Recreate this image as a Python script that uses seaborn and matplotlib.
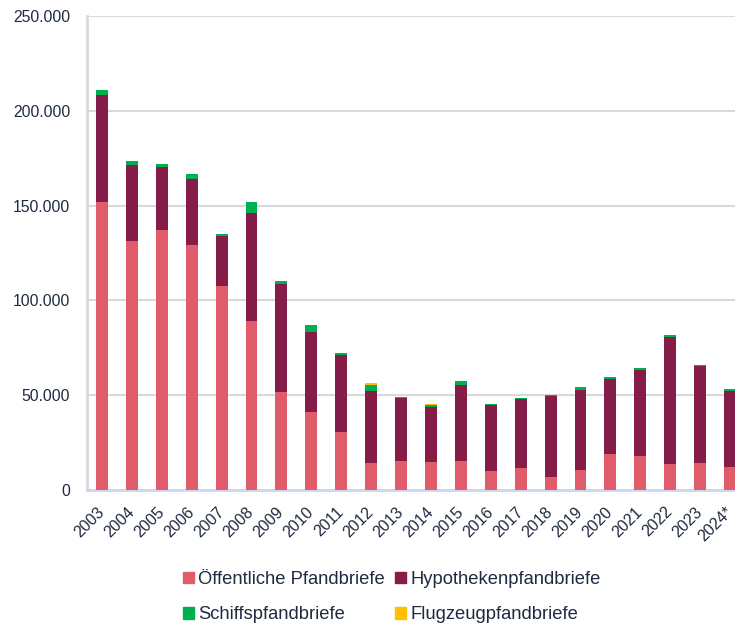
import matplotlib
matplotlib.use("Agg")
import matplotlib.pyplot as plt
from matplotlib.ticker import FuncFormatter
from matplotlib.patches import Patch
import numpy as np
import pandas as pd
import seaborn as sns

years = ["2003", "2004", "2005", "2006", "2007", "2008", "2009", "2010", "2011", "2012", "2013",
         "2014", "2015", "2016", "2017", "2018", "2019", "2020", "2021", "2022", "2023", "2024*"]
oeffentliche = [152000, 131200, 136900, 129000, 107500, 89100, 51800, 41100, 30600, 14000, 15300,
                14900, 15300, 10000, 11600, 6900, 10700, 18800, 18100, 13900, 14000, 12300]
hypothek = [56300, 40100, 33300, 34900, 26500, 57000, 56600, 42200, 40500, 38300, 33300,
            29000, 40000, 35000, 36500, 42800, 42000, 39900, 45300, 66900, 51200, 39900]
schiff = [2500, 2100, 2000, 2600, 900, 6000, 1600, 3700, 1100, 3200, 400,
          900, 2300, 300, 200, 200, 1600, 700, 900, 900, 700, 1000]
flugzeug = [0, 0, 0, 0, 0, 0, 0, 0, 0, 900, 0,
            500, 0, 0, 0, 0, 0, 0, 0, 0, 0, 0]
series_names = ["Öffentliche Pfandbriefe", "Hypothekenpfandbriefe", "Schiffspfandbriefe", "Flugzeugpfandbriefe"]
colors = ["#E05C6A", "#861C48", "#00B050", "#FFC000"]
text_color = "#1F2A40"

sns.set_theme(style="white")
plt.rcParams["font.family"] = ["Liberation Sans", "DejaVu Sans"]

fig = plt.figure(figsize=(7.35, 6.26), dpi=100)
ax = fig.add_axes([87 / 735, (626 - 490) / 626, (745 - 87) / 735, (490 - 16) / 626])

df = pd.DataFrame({"Jahr": years})
bottom = np.zeros(len(years))
for name, vals, col in zip(series_names, [oeffentliche, hypothek, schiff, flugzeug], colors):
    df[name] = vals
    sns.barplot(data=df, x="Jahr", y=name, color=col, bottom=bottom.copy(), width=0.4,
                linewidth=0, saturation=1, ax=ax, zorder=3)
    bottom = bottom + np.array(vals, dtype=float)

ax.set_xlim(-0.5, len(years) - 0.5)
ax.set_ylim(0, 250000)
ax.set_yticks(np.arange(0, 250001, 50000))
ax.yaxis.set_major_formatter(FuncFormatter(lambda v, p: f"{int(v):,}".replace(",", ".")))
ax.set_xlabel("")
ax.set_ylabel("")
ax.grid(axis="y", color="#D9D9D9", linewidth=1.5, zorder=0)
ax.set_axisbelow(True)
for s in ["top", "right"]:
    ax.spines[s].set_visible(False)
ax.spines["left"].set_color("#D9D9D9")
ax.spines["left"].set_linewidth(2)
ax.spines["bottom"].set_color("#C9D8EE")
ax.spines["bottom"].set_linewidth(2)
ax.tick_params(axis="y", length=0, pad=12, labelsize=11.3, labelcolor=text_color)
ax.tick_params(axis="x", length=0, pad=14, labelsize=11.5, labelcolor=text_color)
for lab in ax.get_xticklabels():
    lab.set_rotation(45)
    lab.set_ha("right")
    lab.set_va("center")
    lab.set_rotation_mode("anchor")

handles = [Patch(color=colors[0]), Patch(color=colors[2]), Patch(color=colors[1]), Patch(color=colors[3])]
labels = [series_names[0], series_names[2], series_names[1], series_names[3]]
fig.legend(handles, labels, ncol=2, loc="center", bbox_to_anchor=(392 / 735, 1 - 597 / 626),
           frameon=False, fontsize=13.2, labelcolor=text_color, handlelength=0.6, handleheight=0.6,
           handletextpad=0.25, columnspacing=0.55, labelspacing=1.0)

fig.savefig("out.png", dpi=100)
